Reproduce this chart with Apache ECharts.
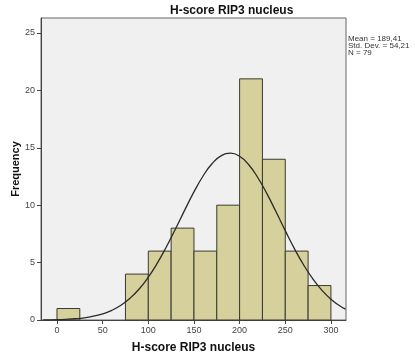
<!DOCTYPE html>
<html><head><meta charset="utf-8">
<script src="https://cdn.jsdelivr.net/npm/echarts@6/dist/echarts.min.js"></script>
<style>html,body{margin:0;padding:0;background:#fff}#c{width:415px;height:354px}</style>
</head><body><div id="c"></div>
<script>
// Histogram bins (H-score RIP3 nucleus)
var binStart = [0, 75, 100, 125, 150, 175, 200, 225, 250, 275];
var binEnd   = [25, 100, 125, 150, 175, 200, 225, 250, 275, 300];
var counts   = [1, 4, 6, 8, 6, 10, 21, 14, 6, 3];
// Normal curve
var curveX = [-15, 0, 10, 20, 30, 40, 50, 60, 70, 80, 90, 100, 110, 120, 130, 140, 150, 160, 170, 180, 190, 200, 210, 220, 230, 240, 250, 260, 270, 280, 290, 300, 310, 316];
var curveY = [0.01, 0.03, 0.06, 0.11, 0.19, 0.33, 0.53, 0.84, 1.29, 1.9, 2.7, 3.73, 4.97, 6.4, 7.97, 9.59, 11.16, 12.54, 13.63, 14.31, 14.53, 14.26, 13.52, 12.39, 10.98, 9.4, 7.78, 6.22, 4.81, 3.6, 2.6, 1.81, 1.22, 0.95];
var xTicks = [0, 50, 100, 150, 200, 250, 300];
var yTicks = [0, 5, 10, 15, 20, 25];
var statLines = ['Mean = 189,41', 'Std. Dev. = 54,21', 'N = 79'];
var titleText = 'H-score RIP3 nucleus';

var bars = counts.map(function (c, i) { return [binStart[i], binEnd[i], c]; });
var curve = curveX.map(function (x, i) { return [x, curveY[i]]; });

var chart = echarts.init(document.getElementById('c'));
chart.setOption({
  animation: false,
  textStyle: { fontFamily: 'Arial, Liberation Sans, sans-serif' },
  grid: { left: 41, right: 69, top: 18, bottom: 34, containLabel: false, outerBoundsMode: 'none', show: true, backgroundColor: '#f0f0f0', borderColor: '#666', borderWidth: 1 },
  graphic: [
    { type: 'text', left: 170, top: 5, style: { text: titleText, font: 'bold 12px Arial, Liberation Sans, sans-serif', fill: '#111' } },
    { type: 'text', left: 348, top: 35, style: { text: statLines.join('\n'), font: '8px Arial, Liberation Sans, sans-serif', lineHeight: 7, fill: '#333' } }
  ],
  xAxis: {
    type: 'value', min: -17.5, max: 316.5,
    name: titleText, nameLocation: 'middle', nameGap: 22,
    nameTextStyle: { fontWeight: 'bold', fontSize: 12, color: '#111' },
    axisLine: { show: true, onZero: false, lineStyle: { color: '#444' } },
    axisTick: { show: true, inside: false, length: 4, customValues: xTicks, lineStyle: { color: '#444' } },
    axisLabel: { customValues: xTicks, fontSize: 9, color: '#444', margin: 6 },
    splitLine: { show: false }
  },
  yAxis: {
    type: 'value', min: 0, max: 26.3,
    name: 'Frequency', nameLocation: 'middle', nameGap: 20, nameMoveOverlap: false,
    nameTextStyle: { fontWeight: 'bold', fontSize: 11, color: '#111' },
    axisLine: { show: true, onZero: false, lineStyle: { color: '#444' } },
    axisTick: { show: true, inside: false, length: 4, customValues: yTicks, lineStyle: { color: '#444' } },
    axisLabel: { customValues: yTicks, fontSize: 9, color: '#444', margin: 6 },
    splitLine: { show: false }
  },
  series: [
    {
      type: 'custom',
      data: bars,
      renderItem: function (params, api) {
        var p0 = api.coord([api.value(0), api.value(2)]);
        var p1 = api.coord([api.value(1), 0]);
        return { type: 'rect', shape: { x: p0[0], y: p0[1], width: p1[0] - p0[0], height: p1[1] - p0[1] },
          style: { fill: '#d5d09c', stroke: '#3a3a30', lineWidth: 1 } };
      },
      encode: { x: [0, 1], y: 2 }
    },
    {
      type: 'line', data: curve, smooth: true, showSymbol: false, clip: true,
      lineStyle: { color: '#2a2a2a', width: 1.3 }, z: 5
    }
  ]
});
</script></body></html>
